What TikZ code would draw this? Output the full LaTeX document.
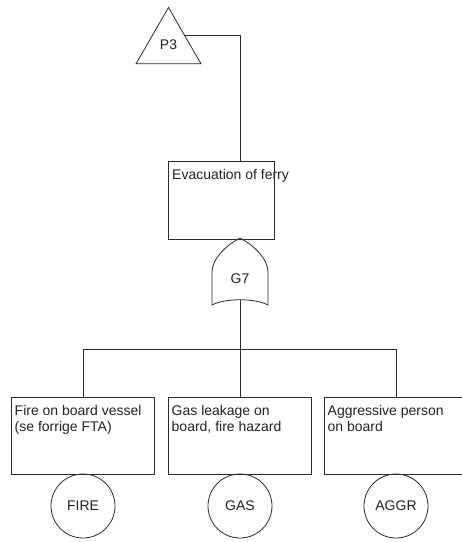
\documentclass[tikz,border=0pt]{standalone}
\usepackage{fontspec}
\setmainfont{Liberation Sans}
\usetikzlibrary{positioning, shapes.geometric}
\definecolor{linegray}{HTML}{2B2B2B}
\definecolor{textgray}{HTML}{222222}
\tikzset{
  event/.style={
    rectangle, draw=linegray, line width=0.8pt,
    minimum width=143pt, minimum height=77pt,
    inner sep=0pt, outer sep=0pt
  },
  eventtext/.style={
    anchor=north west, align=left, inner xsep=3pt, inner ysep=8pt,
    font=\fontsize{14}{16}\selectfont, text=textgray
  },
  basic/.style={
    circle, draw=linegray, line width=0.8pt, minimum size=64pt,
    inner sep=0pt, outer sep=0pt,
    font=\fontsize{14}{16}\selectfont, text=textgray
  },
  transfer/.style={
    regular polygon, regular polygon sides=3, draw=linegray,
    line width=0.8pt, minimum size=75pt, inner sep=0pt, outer sep=0pt,
    font=\fontsize{14}{16}\selectfont, text=textgray
  },
  gatelabel/.style={font=\fontsize{14}{16}\selectfont, text=textgray},
  conn/.style={draw=linegray, line width=0.8pt},
}

\begin{document}
\begin{tikzpicture}[x=1pt, y=-1pt]
  \clip (0,0) rectangle (462,542);

  % top event and transfer
  \node[transfer] (p3) at (168.5,45) {P3};
  \node[event, minimum width=106pt, minimum height=78pt] (evac) at (221,200) {};
  \node[eventtext, inner xsep=4pt] (evact) at (evac.north west) {Evacuation of ferry};

  % OR gate
  \node[gatelabel] (g7) at (240,279) {G7};
  \draw[conn] (212,305) -- (212,272)
    .. controls (212,258) and (228,244) .. (240,238)
    .. controls (252,244) and (268,258) .. (268,272)
    -- (268,305)
    .. controls (255,298) and (225,298) .. (212,305) -- cycle;
  \coordinate (g7out) at (240,300);

  % basic events
  \node[event] (fire) at (83,435.5) {};
  \node[event, right=14pt of fire] (gas) {};
  \node[event, right=13pt of gas] (aggr) {};
  \node[eventtext] (firet) at (fire.north west) {Fire on board vessel\\(se forrige FTA)};
  \node[eventtext] (gast) at (gas.north west) {Gas leakage on\\board, fire hazard};
  \node[eventtext] (aggrt) at (aggr.north west) {Aggressive person\\on board};

  \node[basic, below=0pt of fire] (fireb) {FIRE};
  \node[basic, below=0pt of gas] (gasb) {GAS};
  \node[basic, below=0pt of aggr] (aggrb) {AGGR};

  % connectors
  \draw[conn] (p3.side 3) -| (evac.north -| g7);
  \coordinate (bar) at (240,349);
  \draw[conn] (g7out) -- (gas.north);
  \draw[conn] (fire.north) -- (fire.north |- bar) -- (aggr.north |- bar) -- (aggr.north);

\end{tikzpicture}
\end{document}
